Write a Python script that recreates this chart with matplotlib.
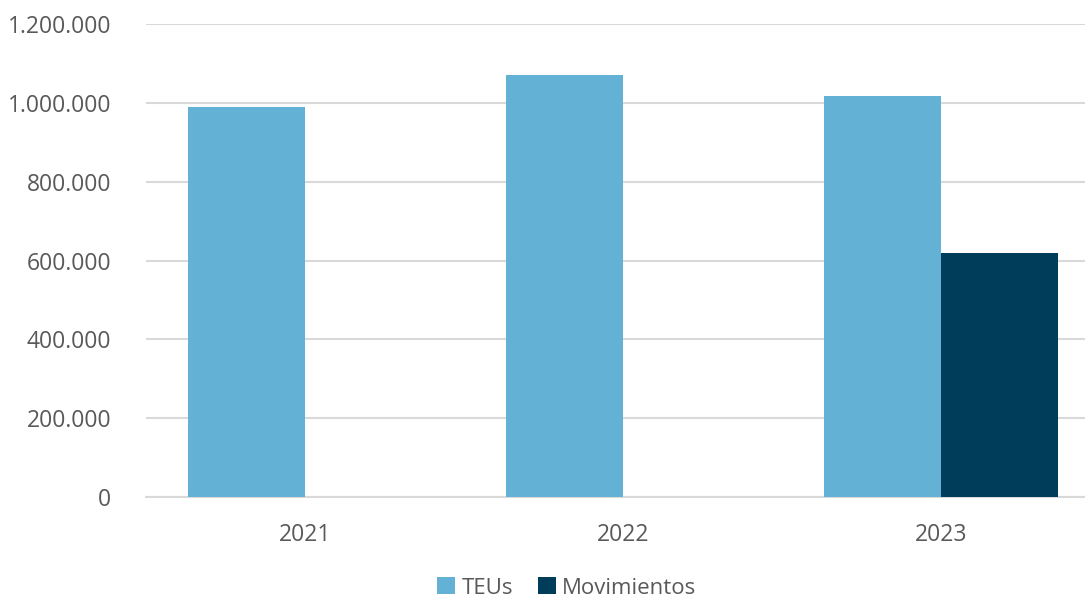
import numpy as np
import matplotlib.pyplot as plt
from matplotlib.ticker import FuncFormatter

years = ["2021", "2022", "2023"]
teus = [990000, 1071000, 1018000]
movimientos = [np.nan, np.nan, 620000]

c_teus = "#63b1d4"
c_mov = "#003d5b"
txt = "#595959"

plt.rcParams['font.family'] = ['Open Sans', 'DejaVu Sans']

fig = plt.figure(figsize=(10.85, 5.98), dpi=100)
ax = fig.add_axes([146/1085, 1 - 497/598, 1 - 146/1085, (497 - 24)/598])

x = np.arange(len(years))
w = 117/318
ax.bar(x - w/2, teus, w, color=c_teus, label="TEUs", zorder=3)
ax.bar(x + w/2, movimientos, w, color=c_mov, label="Movimientos", zorder=3)

ax.set_ylim(0, 1200000)
ax.set_yticks(np.arange(0, 1200001, 200000))
ax.yaxis.set_major_formatter(FuncFormatter(lambda v, p: f"{int(v):,}".replace(",", ".")))
ax.set_xlim(-0.5, (1085 - 146)/318 - 0.5)
ax.set_xticks(x)
ax.set_xticklabels(years)

ax.grid(axis='y', color="#d9d9d9", linewidth=1.5, zorder=0)
for s in ["top", "right", "left"]:
    ax.spines[s].set_visible(False)
ax.spines["bottom"].set_color("#d9d9d9")
ax.spines["bottom"].set_linewidth(1.5)
ax.tick_params(axis='both', length=0, labelsize=16.5, labelcolor=txt)
ax.tick_params(axis='y', pad=25)
ax.tick_params(axis='x', pad=19)

leg = fig.legend(loc="center", bbox_to_anchor=(567/1085, 1 - 588/598), ncol=2, frameon=False,
                 fontsize=16, handlelength=0.8, handleheight=0.8, handletextpad=0.3, columnspacing=1.1)
for t in leg.get_texts():
    t.set_color(txt)

fig.savefig("out.png", dpi=100)
